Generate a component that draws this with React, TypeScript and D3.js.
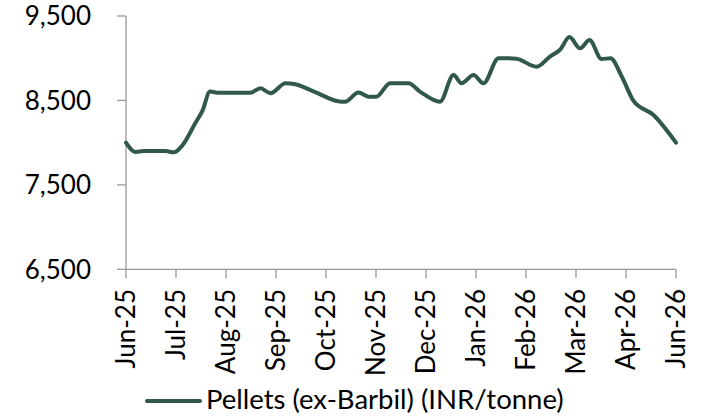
import React from "react";
import * as d3 from "d3";

// x positions are in axis-tick units (0 = Jun-25 tick, 11 = Jun-26 tick)
const seriesPos: number[] = [
  0, 0.19, 0.36, 0.79, 0.96, 1.13, 1.39, 1.53, 1.68, 1.86, 2.49, 2.69, 2.89,
  3.19, 3.36, 3.76, 4.31, 4.38, 4.65, 4.85, 5.01, 5.28, 5.65, 5.88, 6.28, 6.55,
  6.71, 6.95, 7.15, 7.45, 7.65, 7.81, 8.21, 8.48, 8.68, 8.87, 9.08, 9.27, 9.51,
  9.69, 9.91, 10.15, 10.55, 11,
];
const seriesValues: number[] = [
  8000, 7890, 7900, 7900, 7885, 7970, 8235, 8380, 8605, 8590, 8592, 8645, 8585,
  8703, 8695, 8605, 8485, 8485, 8595, 8545, 8545, 8703, 8703, 8605, 8485, 8800,
  8703, 8800, 8703, 9000, 9000, 8995, 8900, 9020, 9100, 9250, 9117, 9215, 8990,
  9000, 8790, 8495, 8327, 8000,
];
const xTickLabels: string[] = [
  "Jun-25", "Jul-25", "Aug-25", "Sep-25", "Oct-25", "Nov-25", "Dec-25",
  "Jan-26", "Feb-26", "Mar-26", "Apr-26", "Jun-26",
];
const yTicks: number[] = [6500, 7500, 8500, 9500];
const seriesName = "Pellets (ex-Barbil) (INR/tonne)";

const W = 709;
const H = 418;
const LEFT = 126;
const RIGHT = 676;
const TOP = 16;
const BOTTOM = 269.3;
const LINE_COLOR = "#30594a";
const AXIS_COLOR = "#999999";
const FONT = "Lato, 'Open Sans', sans-serif";
const FS = 26;

export default function App() {
  const x = d3.scaleLinear().domain([0, xTickLabels.length - 1]).range([LEFT, RIGHT]);
  const y = d3.scaleLinear().domain([6500, 9500]).range([BOTTOM, TOP]);
  const line = d3
    .line<number>()
    .x((_, i) => x(seriesPos[i]))
    .y((d) => y(d))
    .curve(d3.curveMonotoneX);
  const fmt = d3.format(",");

  return (
    <svg
      width={W}
      height={H}
      style={{ position: "absolute", left: 0, top: 0, background: "#fff" }}
      fontFamily={FONT}
    >
      {/* y axis */}
      <line x1={LEFT} x2={LEFT} y1={TOP} y2={BOTTOM} stroke={AXIS_COLOR} strokeWidth={1.3} />
      {yTicks.map((t) => (
        <g key={t}>
          <line x1={LEFT - 9} x2={LEFT} y1={y(t)} y2={y(t)} stroke={AXIS_COLOR} strokeWidth={1.3} />
          <text x={91} y={y(t)} dy="0.36em" textAnchor="end" fontSize={FS} fill="#000">
            {fmt(t)}
          </text>
        </g>
      ))}
      {/* x axis */}
      <line x1={LEFT} x2={RIGHT} y1={BOTTOM} y2={BOTTOM} stroke={AXIS_COLOR} strokeWidth={1.3} />
      {xTickLabels.map((lab, i) => (
        <g key={lab + i}>
          <line x1={x(i)} x2={x(i)} y1={BOTTOM} y2={BOTTOM + 9} stroke={AXIS_COLOR} strokeWidth={1.3} />
          <text
            transform={`translate(${x(i)},${289}) rotate(-90)`}
            dy="0.36em"
            textAnchor="end"
            fontSize={FS}
            fill="#000"
          >
            {lab}
          </text>
        </g>
      ))}
      {/* series */}
      <path d={line(seriesValues) || ""} fill="none" stroke={LINE_COLOR} strokeWidth={4} strokeLinejoin="round" strokeLinecap="round" />
      {/* legend */}
      <line x1={147} x2={200} y1={401} y2={401} stroke={LINE_COLOR} strokeWidth={4} strokeLinecap="round" />
      <text x={206} y={408.5} fontSize={27.5} fill="#000">
        {seriesName}
      </text>
    </svg>
  );
}
